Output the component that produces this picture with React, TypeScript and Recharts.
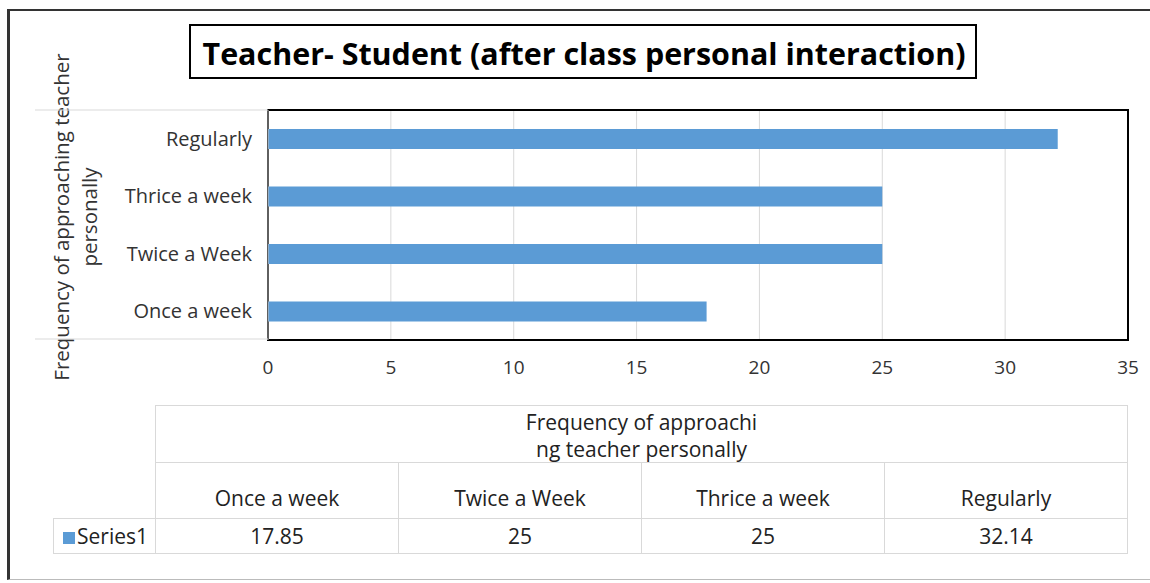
import React from 'react';
import { BarChart, Bar, XAxis, YAxis, CartesianGrid, ReferenceArea } from 'recharts';

const categories = ['Once a week', 'Twice a Week', 'Thrice a week', 'Regularly'];
const series1 = [17.85, 25, 25, 32.14];
const xTicks = [0, 5, 10, 15, 20, 25, 30, 35];
const seriesName = 'Series1';
const title = 'Teacher- Student (after class personal interaction)';
const axisTitle = ['Frequency of approaching teacher', 'personally'];
const tableHeader = ['Frequency of approachi', 'ng teacher personally'];

const data = categories.map((name, i) => ({ name, value: series1[i] }));

const FONT = '"Open Sans", "DejaVu Sans", sans-serif';
const BAR = '#5b9bd5';
const GRID = '#d9d9d9';

// data table under the chart (Excel style)
const DataTable = () => {
  const left = 155;
  const colW = 243;
  const cell: React.CSSProperties = {
    position: 'absolute',
    boxSizing: 'border-box',
    border: `1px solid ${GRID}`,
    fontFamily: FONT,
    fontSize: 21,
    color: '#222',
    textAlign: 'center',
    whiteSpace: 'nowrap',
  };
  return (
    <>
      <div style={{ ...cell, left, top: 405, width: colW * 4 + 1, height: 58, lineHeight: '27px', paddingTop: 3 }}>
        {tableHeader.map((t) => (
          <div key={t}>{t}</div>
        ))}
      </div>
      {categories.map((c, i) => (
        <div
          key={c}
          style={{ ...cell, left: left + i * colW, top: 462, width: colW + 1, height: 57, lineHeight: '24px', paddingTop: 23 }}
        >
          {c}
        </div>
      ))}
      <div style={{ ...cell, left: 53, top: 518, width: left - 53 + 1, height: 36, lineHeight: '34px', textAlign: 'left', paddingLeft: 9 }}>
        <span style={{ display: 'inline-block', width: 12, height: 12, background: BAR, marginRight: 2 }} />
        {seriesName}
      </div>
      {series1.map((v, i) => (
        <div key={i} style={{ ...cell, left: left + i * colW, top: 518, width: colW + 1, height: 36, lineHeight: '34px' }}>
          {v}
        </div>
      ))}
    </>
  );
};

export default function App() {
  return (
    <div style={{ position: 'absolute', left: 0, top: 0, width: 1150, height: 583, overflow: 'hidden', background: '#fff' }}>
      {/* outer frame, open on the right */}
      <div
        style={{
          position: 'absolute',
          left: 7,
          top: 9,
          width: 1143,
          height: 571,
          borderTop: '2px solid #333',
          borderLeft: '3px solid #333',
          borderBottom: '1px solid #bbb',
          boxSizing: 'border-box',
        }}
      />

      <div style={{ position: 'absolute', left: 0, top: 0 }}>
        <BarChart width={1150} height={400} data={data} layout="vertical" margin={{ top: 110, right: 22, bottom: 30, left: 68 }}>
          <CartesianGrid horizontal={false} stroke={GRID} />
          <XAxis
            type="number"
            domain={[0, 35]}
            ticks={xTicks}
            axisLine={{ stroke: '#000', strokeWidth: 2 }}
            tickLine={false}
            tickMargin={15}
            height={30}
            tick={{ fontSize: 19, fill: '#333', fontFamily: FONT }}
          />
          <YAxis
            type="category"
            dataKey="name"
            reversed
            width={200}
            tickLine={false}
            tickMargin={10}
            axisLine={{ stroke: '#bfbfbf' }}
            tick={{ fontSize: 20, fill: '#333', fontFamily: FONT }}
          />
          <Bar dataKey="value" fill={BAR} barSize={20} isAnimationActive={false} />
          <ReferenceArea x1={0} x2={35} fill="none" stroke="#000" strokeWidth={2} ifOverflow="visible" />
        </BarChart>
      </div>

      {/* title, axis title and table guide lines */}
      <svg width={1150} height={583} style={{ position: 'absolute', left: 0, top: 0, pointerEvents: 'none' }}>
        <rect x={190} y={25} width={786} height={53} fill="none" stroke="#000" strokeWidth={2} />
        <text x={584} y={65} textAnchor="middle" fontFamily={FONT} fontWeight="bold" fontSize={31} fill="#000" textLength={763} lengthAdjust="spacingAndGlyphs">
          {title}
        </text>
        <g transform="translate(0,217) rotate(-90)" fontFamily={FONT} fontSize={20.5} fill="#333" textAnchor="middle">
          <text x={0} y={69}>{axisTitle[0]}</text>
          <text x={0} y={97}>{axisTitle[1]}</text>
        </g>
        <line x1={35} y1={110} x2={268} y2={110} stroke={GRID} />
        <line x1={35} y1={339} x2={268} y2={339} stroke={GRID} />
      </svg>

      <DataTable />
    </div>
  );
}
